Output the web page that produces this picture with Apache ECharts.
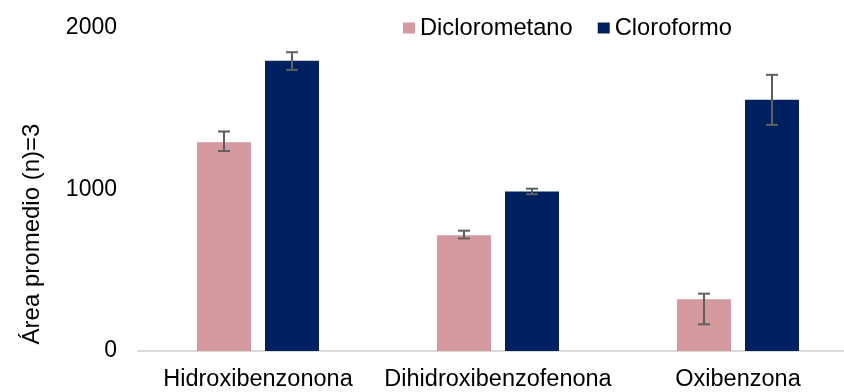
<!DOCTYPE html>
<html>
<head>
<meta charset="utf-8">
<script src="https://cdn.jsdelivr.net/npm/echarts@6/dist/echarts.min.js"></script>
<style>
html,body{margin:0;padding:0;background:#fff;overflow:hidden;width:844px;height:392px;}
#chart{width:858px;height:392px;}
</style>
</head>
<body>
<div id="chart"></div>
<script>
var categories = ['Hidroxibenzonona', 'Dihidroxibenzofenona', 'Oxibenzona'];
var seriesNames = ['Diclorometano', 'Cloroformo'];
var dicloro = [1293, 717, 320];
var cloro = [1797, 988, 1555];
var dicloroErrUp = [66, 28, 35];
var dicloroErrDown = [55, 20, 155];
var cloroErrUp = [53, 17, 155];
var cloroErrDown = [56, 17, 155];
var yTicks = [0, 1000, 2000];

var FONT = '"Liberation Sans", Arial, sans-serif';
var barWidth = 54;
var barGapPx = 14;

function errorSeries(vals, up, down, offsetSign) {
  var data = vals.map(function (v, i) { return [i, v - down[i], v + up[i]]; });
  return {
    type: 'custom',
    name: 'err' + offsetSign,
    silent: true,
    z: 10,
    renderItem: function (params, api) {
      var lo = api.coord([api.value(0), api.value(1)]);
      var hi = api.coord([api.value(0), api.value(2)]);
      var dx = offsetSign * (barWidth + barGapPx) / 2;
      var x = lo[0] + dx;
      var cap = 6;
      var style = { stroke: '#5f5f5f', lineWidth: 2 };
      return {
        type: 'group',
        children: [
          { type: 'line', shape: { x1: x, y1: lo[1], x2: x, y2: hi[1] }, style: style },
          { type: 'line', shape: { x1: x - cap, y1: lo[1], x2: x + cap, y2: lo[1] }, style: style },
          { type: 'line', shape: { x1: x - cap, y1: hi[1], x2: x + cap, y2: hi[1] }, style: style }
        ]
      };
    },
    encode: { x: 0, y: [1, 2] },
    data: data
  };
}

var chart = echarts.init(document.getElementById('chart'));
chart.setOption({
  animation: false,
  backgroundColor: '#ffffff',
  textStyle: { fontFamily: FONT },
  grid: { left: 138, right: 0, top: 28, bottom: 39, containLabel: false },
  legend: {
    data: seriesNames,
    left: 398,
    top: 11,
    icon: 'rect',
    itemWidth: 12,
    itemHeight: 11,
    itemGap: 25,
    textStyle: { fontFamily: FONT, fontSize: 23.7, color: '#000' }
  },
  xAxis: {
    type: 'category',
    data: categories,
    axisLine: { show: true, lineStyle: { color: '#d9d9d9', width: 2 } },
    axisTick: { show: false },
    axisLabel: { fontFamily: FONT, fontSize: 23.5, color: '#000', margin: 17, interval: 0 }
  },
  yAxis: {
    type: 'value',
    min: yTicks[0],
    max: yTicks[yTicks.length - 1],
    interval: 1000,
    splitLine: { show: false },
    axisLine: { show: false },
    axisTick: { show: false },
    axisLabel: {
      fontFamily: FONT, fontSize: 23, color: '#000', margin: 21,
      padding: [4, 0, 0, 0],
      formatter: function (v) { return String(v); }
    }
  },
  graphic: [{
    type: 'text',
    x: 20,
    y: 234,
    rotation: Math.PI / 2,
    style: {
      text: 'Área promedio (n)=3',
      fontFamily: FONT,
      fontSize: 24,
      fill: '#000',
      align: 'center',
      verticalAlign: 'top'
    }
  }],
  series: [
    {
      name: seriesNames[0],
      type: 'bar',
      data: dicloro,
      barWidth: barWidth,
      barGap: (barGapPx / barWidth * 100).toFixed(1) + '%',
      itemStyle: { color: '#d3999e' }
    },
    {
      name: seriesNames[1],
      type: 'bar',
      data: cloro,
      barWidth: barWidth,
      itemStyle: { color: '#002060' }
    },
    errorSeries(dicloro, dicloroErrUp, dicloroErrDown, -1),
    errorSeries(cloro, cloroErrUp, cloroErrDown, 1)
  ]
});
</script>
</body>
</html>
